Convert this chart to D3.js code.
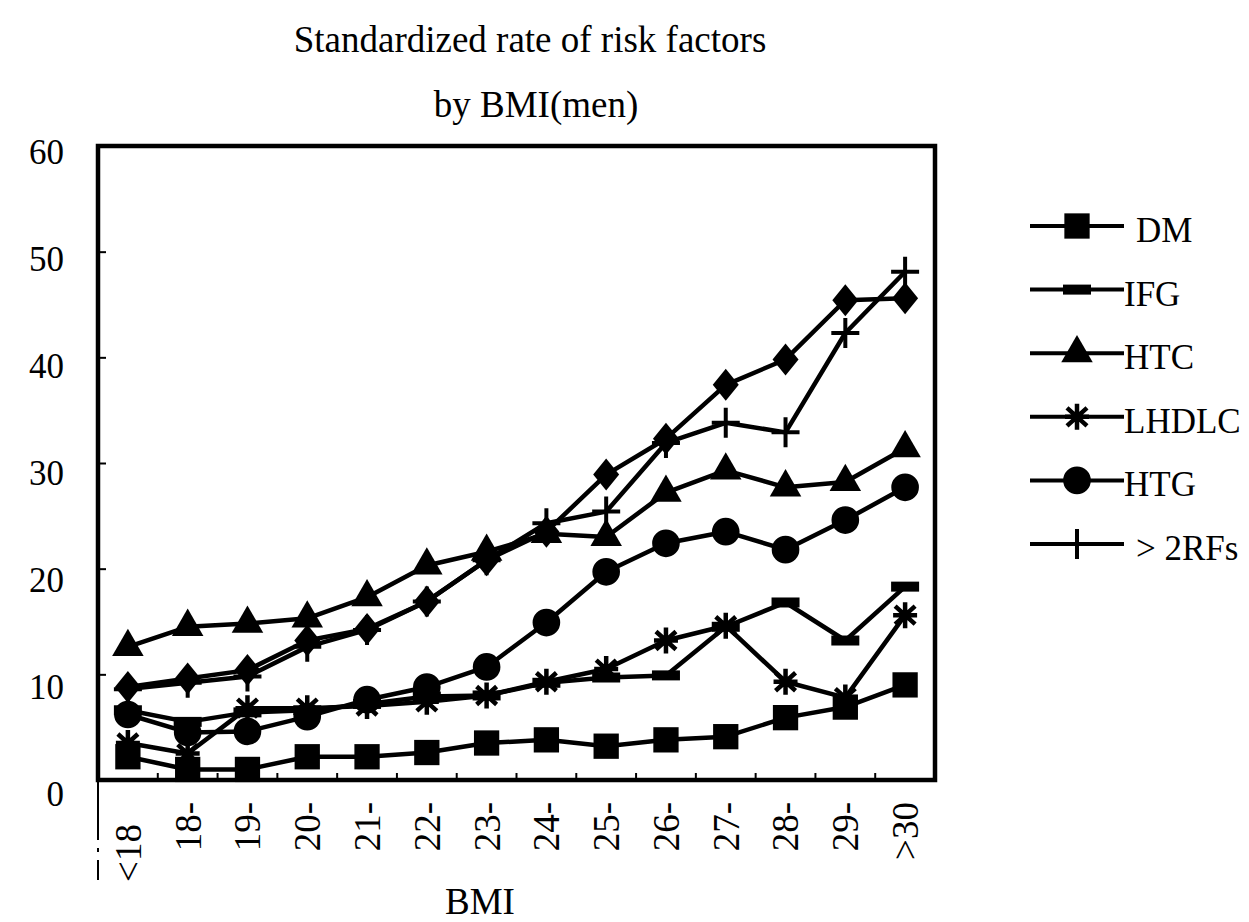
<!DOCTYPE html>
<html>
<head>
<meta charset="utf-8">
<script src="https://cdn.jsdelivr.net/npm/d3@7"></script>
<style>
body { margin:0; background:#fff; }
text { font-family: "Liberation Serif", "Times New Roman", serif; fill:#000; }
</style>
</head>
<body>
<svg id="chart" width="1249" height="922"></svg>
<script>
// BMI groups along the x axis
var categories = ["<18","18-","19-","20-","21-","22-","23-","24-","25-","26-","27-","28-","29-",">30"];
var yTicks = [0,10,20,30,40,50,60];

// standardized rates (%)
var dmValues    = [2.2, 1.0, 1.0, 2.2, 2.2, 2.6, 3.5, 3.8, 3.2, 3.8, 4.1, 5.9, 6.9, 9.0];
var ifgValues   = [6.6, 5.5, 6.4, 6.6, 7.2, 7.9, 8.0, 9.2, 9.7, 9.9, 14.5, 16.8, 13.2, 18.3];
var htcValues   = [12.6, 14.5, 14.8, 15.3, 17.3, 20.3, 21.6, 23.3, 23.0, 27.2, 29.3, 27.7, 28.2, 31.4];
var lhdlcValues = [3.5, 2.5, 6.8, 6.8, 7.0, 7.4, 8.0, 9.3, 10.5, 13.2, 14.6, 9.3, 7.8, 15.6];
var htgValues   = [6.2, 4.5, 4.6, 6.0, 7.6, 8.8, 10.7, 14.9, 19.7, 22.4, 23.5, 21.8, 24.6, 27.7];
var rfsValues   = [8.6, 9.2, 9.8, 12.6, 14.2, 16.9, 20.8, 24.3, 25.4, 31.9, 33.8, 32.9, 42.3, 48.1];
// diamond series, its legend entry is cut off in the picture
var topValues   = [8.8, 9.6, 10.4, 13.2, 14.3, 16.9, 20.8, 23.5, 28.9, 32.3, 37.4, 39.8, 45.4, 45.6];

var legendNames = ["DM","IFG","HTC","LHDLC","HTG","> 2RFs"];

var series = [
    {name:"DM", values:dmValues, marker:"square"},
    {name:"IFG", values:ifgValues, marker:"dash"},
    {name:"HTC", values:htcValues, marker:"triangle"},
    {name:"LHDLC", values:lhdlcValues, marker:"asterisk"},
    {name:"HTG", values:htgValues, marker:"circle"},
    {name:"> 2RFs", values:rfsValues, marker:"plus"},
    {name:"", values:topValues, marker:"diamond"}
];

var plot = {left:98, top:146, right:935, bottom:780};

var svg = d3.select("#chart");

var xScale = d3.scalePoint()
    .domain(categories)
    .range([plot.left, plot.right])
    .padding(0.5);

var yScale = d3.scaleLinear()
    .domain([0, 60])
    .range([plot.bottom, plot.top]);

// the tick labels sit a little below their ticks, more so near 0
var yLabelScale = d3.scaleLinear()
    .domain([0, 60])
    .range([plot.bottom + 14, plot.top + 6]);

var drawMarker = function(g, type)
{
    if (type == "square") {
        g.append("path").attr("d", d3.symbol(d3.symbolSquare, 640)());
    } else if (type == "triangle") {
        g.append("path").attr("d", d3.symbol(d3.symbolTriangle, 430)());
    } else if (type == "circle") {
        g.append("path").attr("d", d3.symbol(d3.symbolCircle, 600)());
    } else if (type == "diamond") {
        g.append("path").attr("d", "M0,-16L13,0L0,16L-13,0Z");
    } else if (type == "dash") {
        g.append("rect").attr("x", -14).attr("y", -5).attr("width", 28).attr("height", 10);
    } else if (type == "plus") {
        g.append("path").attr("d", "M-14,0H14M0,-15V15")
            .attr("stroke", "#000").attr("stroke-width", 4);
    } else if (type == "asterisk") {
        g.append("path").attr("d", "M-10,-9L10,9M-10,9L10,-9M0,-13V13M-12,0H12")
            .attr("stroke", "#000").attr("stroke-width", 4.5);
    }
}

// titles
var titles = svg.append("g").attr("font-size", 37);
titles.append("text")
    .text("Standardized rate of risk factors")
    .attr("text-anchor", "middle")
    .attr("x", 530)
    .attr("y", 52);
titles.append("text")
    .text("by BMI(men)")
    .attr("text-anchor", "middle")
    .attr("x", 536)
    .attr("y", 117);

// frame
svg.append("rect")
    .attr("x", plot.left)
    .attr("y", plot.top)
    .attr("width", plot.right - plot.left)
    .attr("height", plot.bottom - plot.top)
    .attr("fill", "none")
    .attr("stroke", "#000")
    .attr("stroke-width", 4.5);

// y axis: inside ticks, labels placed separately
var yAxis = d3.axisLeft(yScale)
    .tickValues(yTicks)
    .tickSizeInner(-8)
    .tickSizeOuter(0)
    .tickFormat("");

var yAxisG = svg.append("g")
    .attr("transform", "translate(" + plot.left + ",0)")
    .call(yAxis);
yAxisG.select(".domain").remove();
yAxisG.selectAll(".tick line").attr("stroke-width", 2);

svg.append("g")
    .selectAll("text")
    .data(yTicks)
    .enter()
    .append("text")
    .text(function(v) { return v; })
    .attr("font-size", 35)
    .attr("text-anchor", "end")
    .attr("x", plot.left - 34)
    .attr("y", function(v) { return yLabelScale(v); })
    .attr("dy", "0.35em");

// x labels, rotated
var step = xScale.step();
var xg = svg.append("g");
xg.selectAll("line.xtick")
    .data(categories)
    .enter()
    .append("line")
    .attr("x1", function(c) { return xScale(c) + step / 2; })
    .attr("x2", function(c) { return xScale(c) + step / 2; })
    .attr("y1", plot.bottom)
    .attr("y2", plot.bottom - 7)
    .attr("stroke", "#000")
    .attr("stroke-width", 2);

xg.selectAll("text")
    .data(categories)
    .enter()
    .append("text")
    .text(function(c) { return c; })
    .attr("font-size", 37)
    .attr("text-anchor", "end")
    .attr("dy", "0.35em")
    .attr("transform", function(c) {
        return "translate(" + xScale(c) + "," + (plot.bottom + (c == "<18" ? 44 : 22)) + ") rotate(-90)";
    });

svg.append("line")
    .attr("x1", plot.left).attr("x2", plot.left)
    .attr("y1", plot.bottom).attr("y2", plot.bottom + 110)
    .attr("stroke", "#000")
    .attr("stroke-width", 2)
    .attr("stroke-dasharray", "60,8,4,8,20,10");

svg.append("text")
    .text("BMI")
    .attr("font-size", 37)
    .attr("text-anchor", "middle")
    .attr("x", 480)
    .attr("y", 914);

// lines and markers
var line = d3.line()
    .x(function(d, i) { return xScale(categories[i]); })
    .y(function(d) { return yScale(d); });

var lines = svg.append("g").classed("graph", true);

series.forEach(function(s)
{
    var g = lines.append("g");
    g.append("path")
        .datum(s.values)
        .attr("d", line)
        .attr("fill", "none")
        .attr("stroke", "#000")
        .attr("stroke-width", 4.5)
        .attr("stroke-linejoin", "round");
    g.selectAll("g.mk")
        .data(s.values)
        .enter()
        .append("g")
        .classed("mk", true)
        .attr("transform", function(d, i) {
            return "translate(" + xScale(categories[i]) + "," + yScale(d) + ")";
        })
        .each(function() { drawMarker(d3.select(this), s.marker); });
});

// legend
var legend = svg.append("g");
var legendY = d3.scalePoint()
    .domain(legendNames)
    .range([230, 548]);

legendNames.forEach(function(name)
{
    var s = series.filter(function(d) { return d.name == name; })[0];
    var y = legendY(name);
    var item = legend.append("g");
    item.append("line")
        .attr("x1", 1030).attr("x2", 1124)
        .attr("y1", y - 4).attr("y2", y - 4)
        .attr("stroke", "#000")
        .attr("stroke-width", 4);
    var m = item.append("g")
        .attr("transform", "translate(1077," + (y - 4) + ")");
    drawMarker(m, s.marker);
    item.append("text")
        .text(name)
        .attr("font-size", 35)
        .attr("x", (name == "> 2RFs" || name == "DM") ? 1136 : 1124)
        .attr("y", y + 12);
});
</script>
</body>
</html>
